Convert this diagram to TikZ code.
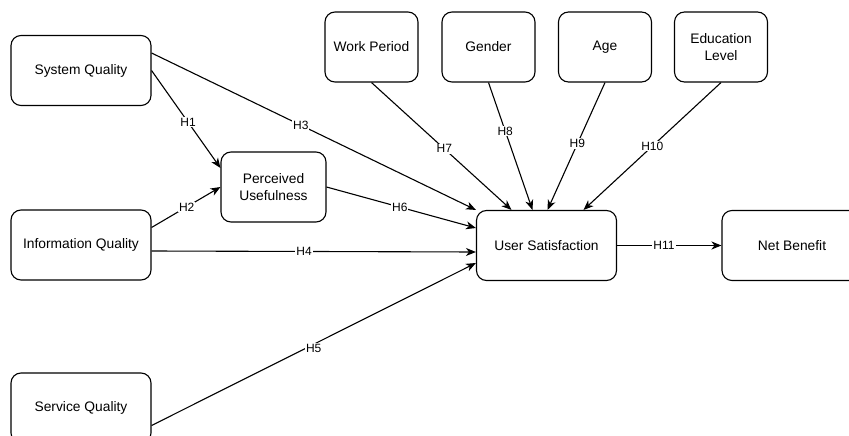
\documentclass[tikz,border=0pt]{standalone}
\usepackage{fontspec}
\setmainfont{Liberation Sans}
\usetikzlibrary{arrows.meta}
\begin{document}
\begin{tikzpicture}[x=1pt,y=-1pt,
  box/.style={draw, rounded corners=10pt, line width=1.1pt, minimum width=140pt, minimum height=70pt, inner sep=0pt, align=center, font=\fontsize{13.8}{16.5}\selectfont},
  pbox/.style={box, minimum width=105pt},
  sbox/.style={box, minimum width=93pt},
  conn/.style={line width=1.1pt, -{Stealth[length=10pt,width=8pt,inset=3pt]}},
  lab/.style={fill=white, inner sep=1pt, font=\fontsize{12}{14}\selectfont}]
\fill[white] (0,0) rectangle (849,436);
\useasboundingbox (0,0) rectangle (849,436);
\clip (0,0) rectangle (849,436);
% nodes
\node[box] (sq) at (81,70.5) {System Quality};
\node[box] (iq) at (81,245) {Information Quality};
\node[box] (svq) at (81,408) {Service Quality};
\node[pbox] (pu) at (273.5,187) {Perceived\\Usefulness};
\node[box] (us) at (546.5,245.5) {User Satisfaction};
\node[box] (nb) at (792,245.5) {Net Benefit};
\node[sbox] (wp) at (371.5,47) {Work Period};
\node[sbox] (gen) at (488.5,47) {Gender};
\node[sbox] (age) at (605,47) {Age};
\node[sbox] (edu) at (721,47) {Education\\Level};
% connectors
\draw[conn] (sq.east) -- node[lab,pos=0.53] {H1} ([yshift=19pt]pu.west);
\draw[conn] ([yshift=17.5pt]iq.east) -- node[lab,pos=0.51] {H2} (pu.west);
\draw[conn] ([yshift=17.5pt]sq.east) -- node[lab,pos=0.46] {H3} (us.north west);
\draw[conn] ([yshift=-6pt]iq.east) -- node[lab,pos=0.47] {H4} ([yshift=-6.5pt]us.west);
\draw[conn] ([yshift=-17.5pt]svq.east) -- node[lab,pos=0.5,yshift=-4pt] {H5} ([yshift=-17.5pt]us.west);
\draw[conn] (pu.east) -- node[lab,pos=0.49] {H6} ([yshift=17.5pt]us.west);
\draw[conn] (wp.south) -- node[lab,pos=0.52] {H7} ([xshift=-35pt]us.north);
\draw[conn] (gen.south) -- node[lab,pos=0.38] {H8} ([xshift=-14pt]us.north);
\draw[conn] (age.south) -- node[lab,pos=0.48] {H9} ([xshift=1pt]us.north);
\draw[conn] (edu.south) -- node[lab,pos=0.5] {H10} ([xshift=37pt]us.north);
\draw[conn] (us.east) -- node[lab,pos=0.45] {H11} (nb.west);
\end{tikzpicture}
\end{document}
